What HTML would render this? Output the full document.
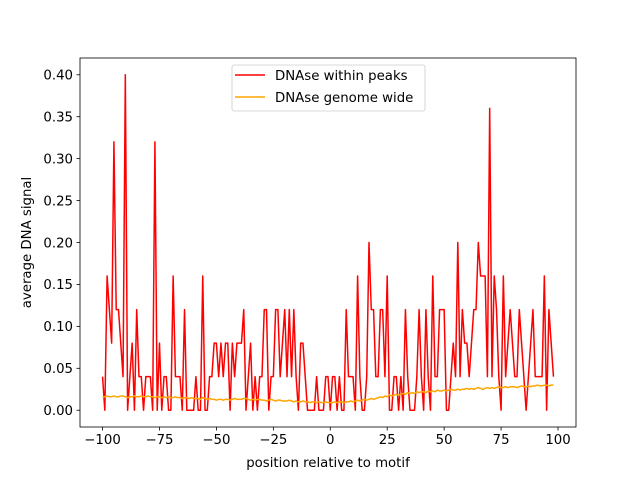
<!DOCTYPE html>
<html><head><meta charset="utf-8"><style>
body{margin:0;background:#fff;}
svg text{font-family:"DejaVu Sans","Liberation Sans",sans-serif;font-size:13.3px;fill:#000;}
</style></head><body>
<svg id="chart" width="640" height="480" xmlns="http://www.w3.org/2000/svg">
<rect width="640" height="480" fill="#fff"/>
<g id="plot"></g>
</svg>
<script>
const xStart = -100;
const peaks = [0.04,0,0.16,0.12,0.08,0.32,0.12,0.12,0.08,0.04,
0.40,0,0.04,0.08,0,0.12,0.04,0.04,0,0.04,
0.04,0.04,0,0.32,0,0.08,0,0.04,0.04,0,
0,0.16,0.04,0.04,0.04,0,0.12,0,0,0,
0,0.04,0,0,0.16,0,0,0.04,0.04,0.08,
0.08,0.04,0.08,0.04,0.08,0.08,0,0.08,0.04,0.08,
0.08,0.08,0.12,0,0.04,0.08,0,0.04,0,0.04,
0.04,0.12,0.12,0,0.04,0.04,0.12,0.12,0.04,0.08,
0.12,0.04,0.12,0.04,0.12,0.04,0,0.08,0.08,0.04,
0,0,0,0,0.04,0,0,0,0.04,0.04,
0,0.04,0.04,0,0.04,0,0,0.12,0.04,0.04,
0.04,0,0.16,0.04,0,0,0.04,0.2,0.12,0.12,
0.04,0.04,0.12,0.12,0.04,0.16,0,0,0.04,0.04,
0,0.04,0,0.12,0.04,0,0,0,0.04,0.12,
0.04,0,0.12,0.04,0,0.16,0.04,0.04,0.12,0.12,
0.12,0,0,0.04,0.08,0.04,0.2,0.04,0.12,0.08,
0.08,0.04,0.08,0.12,0.12,0.2,0.16,0.16,0.16,0.04,
0.36,0.04,0.16,0.12,0.04,0,0.16,0.04,0.08,0.12,
0.08,0.04,0.04,0.12,0.08,0.04,0,0.04,0.08,0.12,
0.04,0.04,0.04,0.04,0.16,0,0.12,0.08,0.04];
const genome = [0.016,0.016,0.017,0.016,0.016,0.017,0.016,0.016,0.017,0.017,0.016,0.015,0.016,0.016,0.017,0.016,0.016,0.017,0.016,0.016,0.017,
0.016,0.016,0.015,0.016,0.016,0.015,0.016,0.015,0.016,0.015,0.015,0.016,0.015,0.015,0.014,0.015,0.015,0.014,0.015,0.014,
0.014,0.014,0.013,0.015,0.014,0.013,0.014,0.013,0.013,0.012,0.013,0.013,0.012,0.013,0.013,0.012,0.013,0.014,0.013,0.013,
0.013,0.014,0.014,0.013,0.012,0.013,0.012,0.013,0.013,0.012,0.012,0.011,0.012,0.013,0.012,0.011,0.012,0.012,0.011,0.011,
0.011,0.012,0.011,0.010,0.011,0.010,0.010,0.011,0.010,0.010,0.009,0.010,0.010,0.009,0.010,0.009,0.009,0.010,0.009,0.009,
0.009,0.010,0.009,0.010,0.010,0.009,0.010,0.010,0.011,0.010,0.011,0.012,0.011,0.012,0.013,0.012,0.013,0.014,0.013,0.014,
0.015,0.016,0.015,0.017,0.016,0.018,0.017,0.018,0.019,0.018,0.019,0.020,0.019,0.021,0.020,0.021,0.020,0.022,0.021,0.022,
0.022,0.021,0.023,0.022,0.023,0.022,0.024,0.023,0.023,0.024,0.023,0.024,0.025,0.024,0.024,0.025,0.024,0.025,0.025,0.026,
0.025,0.026,0.025,0.026,0.027,0.026,0.025,0.026,0.027,0.026,0.027,0.026,0.027,0.028,0.027,0.027,0.028,0.027,0.028,0.028,
0.028,0.027,0.028,0.029,0.028,0.028,0.029,0.028,0.029,0.029,0.030,0.029,0.029,0.030,0.030,0.029,0.030,0.030];
const xTicks = [-100,-75,-50,-25,0,25,50,75,100];
const yTicks = [0,0.05,0.10,0.15,0.20,0.25,0.30,0.35,0.40];
const yTickLabels = ["0.00","0.05","0.10","0.15","0.20","0.25","0.30","0.35","0.40"];

const L=80,R=576,T=58,B=427;
const NS="http://www.w3.org/2000/svg";
const g=document.getElementById('plot');
const n=Math.max(peaks.length,genome.length);
const xmin=xStart, xmax=xStart+n-1;
const xpad=(xmax-xmin)*0.05;
const allY=peaks.concat(genome);
const ymin0=Math.min(...allY), ymax0=Math.max(...allY);
const ypad=(ymax0-ymin0)*0.05;
const X=v=>L+(v-(xmin-xpad))/((xmax+xpad)-(xmin-xpad))*(R-L);
const Y=v=>B-(v-(ymin0-ypad))/((ymax0+ypad)-(ymin0-ypad))*(B-T);
function mk(tag,attrs){const e=document.createElementNS(NS,tag);for(const k in attrs)e.setAttribute(k,attrs[k]);g.appendChild(e);return e;}

function series(arr,color,name){
  const d=arr.map((v,i)=>(i?'L':'M')+X(xStart+i).toFixed(2)+' '+Y(v).toFixed(2)).join(' ');
  const p=mk('path',{d:d,fill:'none',stroke:color,'stroke-width':1.5,'stroke-linejoin':'round'});
  
  
}
series(peaks,'#ff0000','peaks-line');
series(genome,'#ffa500','genome-line');

const frame=mk('rect',{x:L,y:T,width:R-L,height:B-T,fill:'none',stroke:'#000','stroke-width':0.8});



xTicks.forEach(t=>{
  const x=X(t);
  const tk=mk('line',{x1:x,x2:x,y1:B,y2:B+3.5,stroke:'#000','stroke-width':0.8});
  
  
  const tx=mk('text',{x:x,y:B+17,'text-anchor':'middle'});
  tx.textContent=(t<0?'\u2212'+(-t):t);
  
  
});
yTicks.forEach((t,i)=>{
  const y=Y(t);
  const tk=mk('line',{x1:L-3.5,x2:L,y1:y,y2:y,stroke:'#000','stroke-width':0.8});
  
  
  const tx=mk('text',{x:L-7,y:y+4.8,'text-anchor':'end'});
  tx.textContent=yTickLabels[i];
  
  
});
const xt=mk('text',{x:(L+R)/2,y:467,'text-anchor':'middle'});
xt.textContent='position relative to motif';


const yt=mk('text',{x:0,y:0,'text-anchor':'middle',transform:'translate(31,'+((T+B)/2)+') rotate(-90)'});
yt.textContent='average DNA signal';



const lg=mk('rect',{x:232,y:65,width:193,height:46,rx:2,fill:'#fff','fill-opacity':0.8,stroke:'#ccc','stroke-width':0.8});


[['DNAse within peaks','#ff0000',75],['DNAse genome wide','#ffa500',97]].forEach(([lab,c,y])=>{
  const l=mk('line',{x1:235,x2:265,y1:y,y2:y,stroke:c,'stroke-width':1.5});
  
  
  const t=mk('text',{x:275,y:y+4.8});
  t.textContent=lab;
  
  
});
</script>
</body></html>
